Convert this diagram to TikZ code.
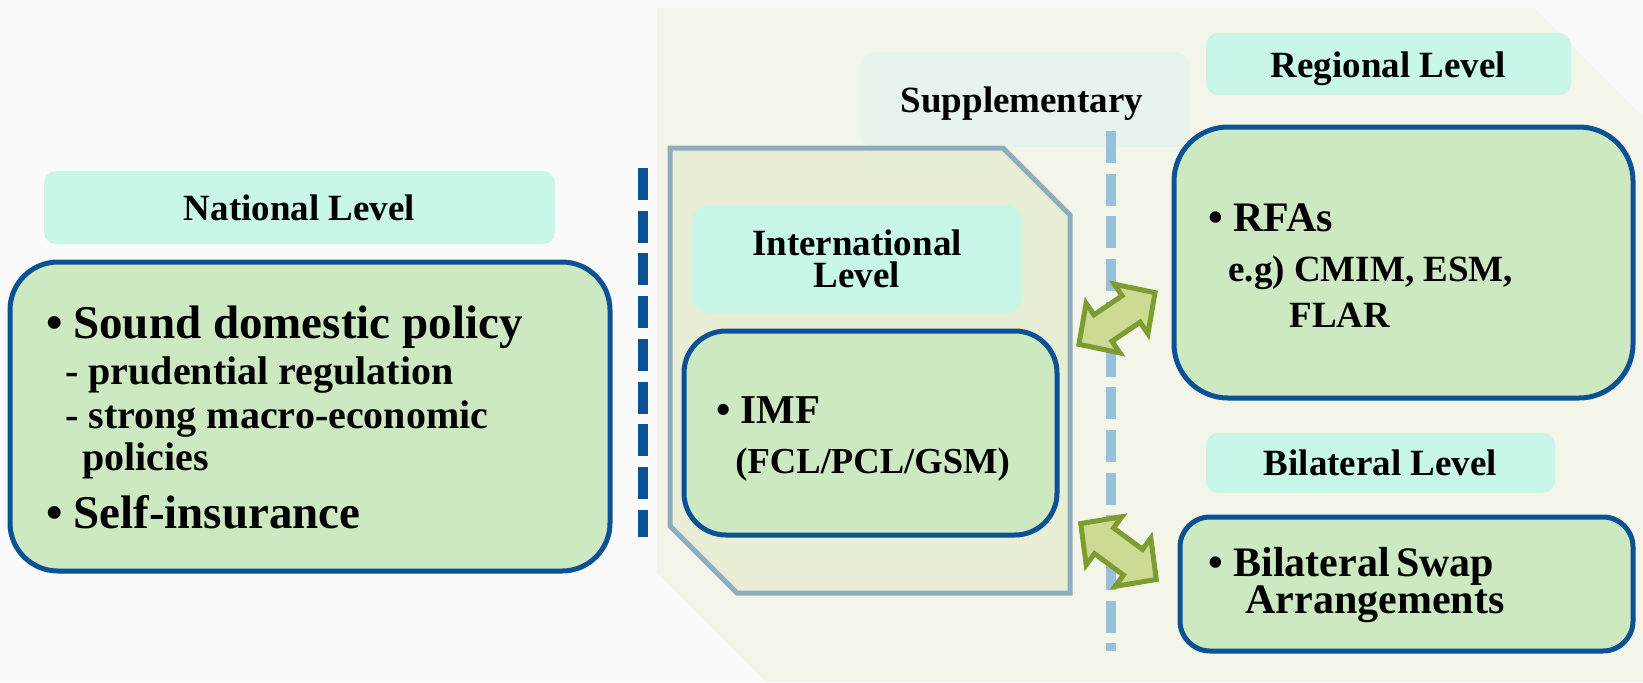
\documentclass[tikz,border=0pt]{standalone}
\usepackage{fontspec}
\setmainfont{Liberation Serif}
\definecolor{pagebg}{HTML}{FAFAFA}
\definecolor{zonefill}{HTML}{F3F5E9}
\definecolor{mint}{HTML}{C8F7EA}
\definecolor{supfill}{HTML}{E6F4EC}
\definecolor{gfill}{HTML}{CCE9C2}
\definecolor{dblue}{HTML}{0D5195}
\definecolor{lblue}{HTML}{97C1DF}
\definecolor{intfill}{HTML}{E8EED5}
\definecolor{intdraw}{HTML}{8EADBE}
\definecolor{arrfill}{HTML}{CBDB93}
\definecolor{arrdraw}{HTML}{7F9C31}
\begin{document}
\begin{tikzpicture}[x=0.5pt,y=-0.5pt,
  lblbox/.style={fill=mint, rounded corners=6pt, inner sep=0pt, align=center,
    font=\fontsize{18.5}{16}\selectfont\bfseries},
  lbltxt/.style={inner sep=0pt, align=center, font=\fontsize{18.5}{16}\selectfont\bfseries},
  gbox/.style={fill=gfill, draw=dblue, line width=2.5pt, inner sep=0pt},
  txt/.style={anchor=base west, inner sep=0pt, font=\bfseries},
  bigtxt/.style={txt, font=\fontsize{23.5}{28}\selectfont\bfseries},
  midtxt/.style={txt, font=\fontsize{20}{24}\selectfont\bfseries},
  smalltxt/.style={txt, font=\fontsize{18.5}{22}\selectfont\bfseries},
  darkdash/.style={draw=dblue, line width=5pt, dash pattern=on 16pt off 5.35pt},
  lightdash/.style={draw=lblue, line width=5pt, dash pattern=on 16pt off 5.35pt},
  blockarrow/.style={fill=arrfill, draw=arrdraw, line width=2.5pt, line join=miter}
]
\newcommand{\bul}{\llap{\textbullet\hspace{5pt}}}
\useasboundingbox (0,0) rectangle (1643,682);
\fill[pagebg] (0,0) rectangle (1643,682);
% background zone
\fill[zonefill] (657,8) -- (1535,8) -- (1643,116) -- (1643,682) -- (767,682) -- (657,572) -- cycle;
% supplementary label
\node[fill=supfill, rounded corners=7pt, inner sep=0pt, minimum width=164pt, minimum height=47.5pt] (sup) at (1025,99.5) {};
\node[lbltxt] (suptxt) at (1022,104) {Supplementary};
% international zone
\draw[fill=intfill, draw=intdraw, line width=2.5pt]
  (670,148) coordinate (i1) -- (1003,148) coordinate (i2) -- (1070,215) coordinate (i3)
  -- (1070,593) coordinate (i4) -- (737,593) coordinate (i5) -- (670,526) coordinate (i6) -- cycle;
% dashed lines
\coordinate (d1) at (643,168); \coordinate (d2) at (643,537);
\draw[darkdash] (d1) -- (d2);
\coordinate (l1) at (1111,131); \coordinate (l2) at (1111,651);
\draw[lightdash] (l1) -- (l2);
% National
\node[lblbox, minimum width=255.5pt, minimum height=36.5pt] (natlbl) at (299.5,207.5) {National Level};
\node[gbox, rounded corners=24pt, minimum width=300pt, minimum height=154.5pt] (natbox) at (310,416.5) {};
\node[bigtxt] (n1) at (73,338) {\bul Sound domestic policy};
\node[midtxt] (n2) at (65,384) {- prudential regulation};
\node[midtxt] (n3) at (65,428) {- strong macro-economic};
\node[midtxt] (n4) at (82,470) {policies};
\node[bigtxt] (n5) at (73,528) {\bul Self-insurance};
% International
\node[lblbox, rounded corners=8.5pt, minimum width=165pt, minimum height=54pt] (intlbl) at (857,259) {International\\Level};
\node[gbox, rounded corners=21pt, minimum width=186.5pt, minimum height=102pt] (imfbox) at (870.5,433) {};
\node[txt, font=\fontsize{20.5}{24}\selectfont\bfseries] (imf1) at (740,423) {\bul IMF};
\node[txt, font=\fontsize{18.3}{22}\selectfont\bfseries] (imf2) at (735,473) {(FCL/PCL/GSM)};
% Regional
\node[fill=mint, rounded corners=6pt, inner sep=0pt, minimum width=182.5pt, minimum height=31pt] (reglbl) at (1388.5,64) {};
\node[lbltxt] (regtxt) at (1388.5,69) {Regional Level};
\node[gbox, rounded corners=27pt, minimum width=229.5pt, minimum height=135.5pt] (regbox) at (1403.5,262.5) {};
\node[txt, font=\fontsize{21}{24}\selectfont\bfseries] (r1) at (1233,231) {\bul RFAs};
\node[smalltxt] (r2) at (1228,281) {e.g) CMIM, ESM,};
\node[smalltxt] (r3) at (1289,327) {FLAR};
% Bilateral
\node[lblbox, minimum width=174.5pt, minimum height=30pt] (bilbl) at (1380.5,463) {Bilateral Level};
\node[gbox, rounded corners=15pt, minimum width=226.5pt, minimum height=67pt] (bibox) at (1406.5,584) {};
\node[txt, font=\fontsize{21}{24}\selectfont\bfseries] (b1) at (1233,576) {\bul Bilateral\hspace{-2pt} Swap};
\node[txt, font=\fontsize{21}{24}\selectfont\bfseries] (b2) at (1245,613) {Arrangements};
% double block arrows
\begin{scope}[shift={(1117,318.5)}, rotate=34.2]
  \draw[blockarrow] (-46,0) -- (-17,30) -- (-17,16) -- (17,16) -- (17,30) -- (46,0)
    -- (17,-30) -- (17,-16) -- (-17,-16) -- (-17,-30) -- cycle;
\end{scope}
\begin{scope}[shift={(1118.5,551.5)}, rotate=-36.5]
  \draw[blockarrow] (-47,0) -- (-18,30) -- (-18,16) -- (18,16) -- (18,30) -- (47,0)
    -- (18,-30) -- (18,-16) -- (-18,-16) -- (-18,-30) -- cycle;
\end{scope}
\end{tikzpicture}
\end{document}
